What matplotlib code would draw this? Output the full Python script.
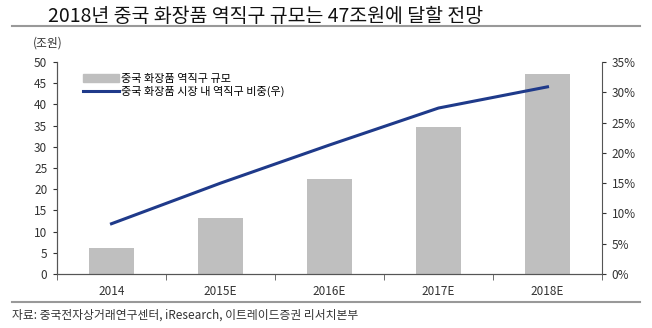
import numpy as np
import matplotlib.pyplot as plt
from matplotlib.lines import Line2D

plt.rcParams['font.family'] = ['Liberation Sans Narrow', 'Noto Sans CJK KR', 'DejaVu Sans']

years = ['2014', '2015E', '2016E', '2017E', '2018E']
market_size = [6.1, 13.2, 22.4, 34.7, 47.2]      # 조원
share_pct = [8.3, 15.0, 21.3, 27.4, 30.9]        # %

fig = plt.figure(figsize=(6.52, 3.28), dpi=100)
ax = fig.add_axes([57 / 652, 1 - 274 / 328, 545 / 652, 212 / 328])
ax2 = ax.twinx()

x = np.arange(len(years))
ax.bar(x, market_size, width=0.42, color='#bfbfbf', zorder=2)
ax2.plot(x, share_pct, color='#1f3a8a', lw=2.2, zorder=3)

ax.set_xlim(-0.5, len(years) - 0.5)
ax.set_ylim(0, 50)
ax.set_yticks(range(0, 51, 5))
ax2.set_ylim(0, 35)
ax2.set_yticks(range(0, 36, 5))
ax2.set_yticklabels([f'{v}%' for v in range(0, 36, 5)])

ax.set_xticks(x)
ax.set_xticklabels(years)
ax.set_xticks(np.arange(-0.5, len(years), 1), minor=True)
ax.tick_params(axis='x', which='major', length=0, pad=8, labelsize=8.5, colors='#333333')
ax.tick_params(axis='x', which='minor', length=4, direction='out', color='#555555')
ax.tick_params(axis='y', length=3, labelsize=8.5, colors='#333333', pad=4)
ax2.tick_params(axis='y', length=3, labelsize=8.5, colors='#333333', pad=4)

for a in (ax, ax2):
    a.spines['top'].set_visible(False)
    for s in ('left', 'right', 'bottom'):
        a.spines[s].set_color('#555555')
        a.spines[s].set_linewidth(0.8)
ax.spines['right'].set_visible(False)

ax.text(-0.045, 1.06, '(조원)', transform=ax.transAxes, fontsize=8.5,
        color='#333333', ha='left', va='bottom', family=['Noto Sans CJK KR'])

handles = [plt.Rectangle((0, 0), 1, 1, color='#bfbfbf'),
           Line2D([0], [0], color='#1f3a8a', lw=2.2)]
leg = ax.legend(handles, ['중국 화장품 역직구 규모', '중국 화장품 시장 내 역직구 비중(우)'],
                loc='upper left', bbox_to_anchor=(0.03, 0.99), frameon=False,
                fontsize=8, handlelength=3.2, handleheight=0.7, labelspacing=0.15,
                handletextpad=0.2, prop={'family': ['Noto Sans CJK KR'], 'size': 8})

fig.text(48 / 652, 1 - 17 / 328, '2018년 중국 화장품 역직구 규모는 47조원에 달할 전망',
         fontsize=14, va='center', ha='left', color='#111111',
         family=['Noto Sans CJK KR'])
fig.add_artist(Line2D([12 / 652, 640 / 652], [1 - 26 / 328, 1 - 26 / 328],
                      color='#999999', lw=1.5))
fig.add_artist(Line2D([12 / 652, 640 / 652], [1 - 302 / 328, 1 - 302 / 328],
                      color='#999999', lw=1.5))
fig.text(12 / 652, 1 - 315 / 328, '자료: 중국전자상거래연구센터, iResearch, 이트레이드증권 리서치본부',
         fontsize=8.5, va='center', ha='left', color='#333333',
         family=['Noto Sans CJK KR'])

fig.savefig('out.png', dpi=100)
